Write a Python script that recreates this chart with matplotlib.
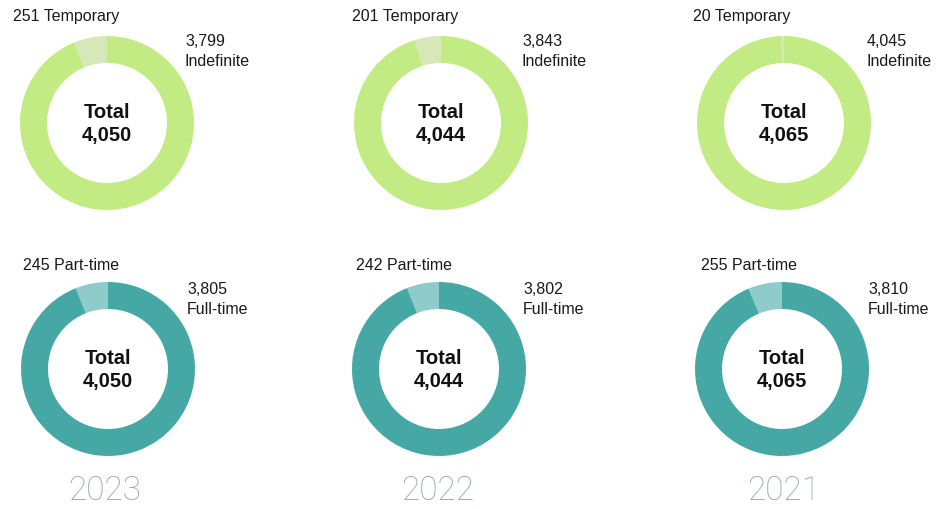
import matplotlib
matplotlib.use("Agg")
import matplotlib.pyplot as plt

years = ['2023', '2022', '2021']
temporary = [251, 201, 20]
indefinite = [3799, 3843, 4045]
part_time = [245, 242, 255]
full_time = [3805, 3802, 3810]
totals = [4050, 4044, 4065]

# layout (pixels)
W, H = 937, 510
cx_top = [107, 441, 784]
cx_bot = [108, 439, 782]
cy_top, cy_bot = 124, 370
r_out, width = 87, 27
left_top = [13, 352, 693]
right_top = [185, 522, 867]
left_bot = [23, 356, 701]
right_bot = [187, 523, 868]
year_x = [105, 438, 784]

c_indef, c_temp = '#c3eb84', '#d6e8b7'
c_full, c_part = '#46a8a4', '#8fcbc8'

plt.rcParams['font.family'] = ['Liberation Sans', 'DejaVu Sans']
fig = plt.figure(figsize=(W / 100, H / 100), dpi=100)
ax = fig.add_axes([0, 0, 1, 1])

def Y(py):
    return H - py

for i in range(3):
    ax.pie([temporary[i], indefinite[i]], colors=[c_temp, c_indef],
           startangle=90, counterclock=True, radius=r_out,
           center=(cx_top[i], Y(cy_top)),
           wedgeprops=dict(width=width, linewidth=0), frame=True)
    ax.pie([part_time[i], full_time[i]], colors=[c_part, c_full],
           startangle=90, counterclock=True, radius=r_out,
           center=(cx_bot[i], Y(cy_bot)),
           wedgeprops=dict(width=width, linewidth=0), frame=True)

    for cx, cy in ((cx_top[i], cy_top), (cx_bot[i], cy_bot)):
        ax.text(cx, Y(cy - 11), 'Total', ha='center', va='center',
                fontsize=14.5, fontweight='bold', color='#111111')
        ax.text(cx, Y(cy + 11), f'{totals[i]:,}', ha='center', va='center',
                fontsize=14.5, fontweight='bold', color='#111111')

    ax.text(left_top[i], Y(17), f'{temporary[i]:,} Temporary', ha='left',
            va='center', fontsize=11.5, color='#1a1a1a')
    ax.text(right_top[i], Y(42), f'{indefinite[i]:,}', ha='left',
            va='center', fontsize=11.5, color='#1a1a1a')
    ax.text(right_top[i], Y(61), 'Indefinite', ha='left',
            va='center', fontsize=11.5, color='#1a1a1a')

    ax.text(left_bot[i], Y(266), f'{part_time[i]:,} Part-time', ha='left',
            va='center', fontsize=11.5, color='#1a1a1a')
    ax.text(right_bot[i], Y(290), f'{full_time[i]:,}', ha='left',
            va='center', fontsize=11.5, color='#1a1a1a')
    ax.text(right_bot[i], Y(309), 'Full-time', ha='left',
            va='center', fontsize=11.5, color='#1a1a1a')

    ax.text(year_x[i], Y(491), years[i], ha='center', va='center',
            fontsize=24, color='#8ea5b7', family=['Roboto', 'DejaVu Sans'],
            fontweight='light')

ax.set_xlim(0, W)
ax.set_ylim(0, H)
ax.set_aspect('equal')
ax.axis('off')
fig.savefig('out.png', dpi=100)
